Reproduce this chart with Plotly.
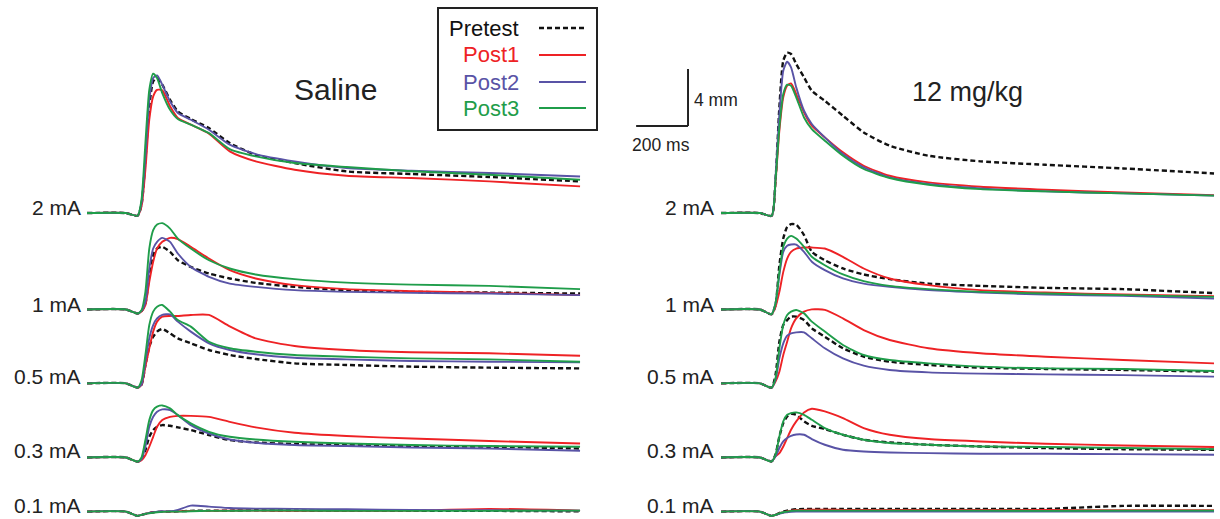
import plotly.graph_objects as go

# Shared time grid (ms from trace start)
T_MS = [0, 150, 195, 210, 225, 240, 255, 270, 290, 320, 350, 400, 470, 550, 650, 800, 1000, 1250, 1550, 1900]

CURRENTS = ["2 mA", "1 mA", "0.5 mA", "0.3 mA", "0.1 mA"]
SERIES = ["Pretest", "Post1", "Post2", "Post3"]

# Amplitude (mm) relative to each trace's baseline; order: Pretest, Post1, Post2, Post3
SAL_2MA = [
    [0, 0, -0.19, 0.58, 3.74, 7.49, 9.24, 9.47, 9.01, 7.95, 7.13, 6.60, 5.96, 4.91, 4.09, 3.51, 2.92, 2.74, 2.53, 2.22],
    [0, 0, -0.19, 0.47, 3.04, 6.55, 8.19, 8.65, 8.61, 7.49, 6.67, 6.20, 5.57, 4.33, 3.63, 3.04, 2.62, 2.46, 2.22, 1.87],
    [0, 0, -0.19, 0.70, 3.98, 7.95, 9.47, 9.66, 9.01, 7.84, 7.02, 6.55, 5.85, 4.80, 4.14, 3.63, 3.16, 2.97, 2.81, 2.57],
    [0, 0, -0.19, 0.94, 4.91, 8.65, 9.78, 9.47, 8.42, 7.25, 6.60, 6.20, 5.61, 4.49, 3.98, 3.51, 3.23, 2.93, 2.69, 2.34],
]
SAL_1MA = [
    [0, 0, -0.28, -0.12, 0.42, 2.41, 3.81, 4.28, 4.40, 4.05, 3.46, 2.99, 2.53, 2.18, 1.87, 1.59, 1.36, 1.24, 1.19, 1.12],
    [0, 0, -0.28, -0.14, 0.30, 1.94, 3.35, 4.28, 4.75, 5.03, 4.94, 4.40, 3.58, 2.76, 2.18, 1.71, 1.43, 1.29, 1.17, 1.01],
    [0, 0, -0.28, -0.10, 0.54, 2.88, 4.28, 4.75, 5.03, 4.75, 3.93, 2.99, 2.29, 1.82, 1.59, 1.36, 1.24, 1.17, 1.12, 1.01],
    [0, 0, -0.28, -0.05, 1.24, 4.28, 5.57, 5.96, 6.06, 5.68, 4.98, 4.28, 3.46, 2.88, 2.46, 2.13, 1.89, 1.75, 1.66, 1.43],
]
SAL_05MA = [
    [0, 0, -0.30, -0.10, 1.29, 2.57, 3.27, 3.63, 3.81, 3.51, 3.16, 2.81, 2.34, 1.99, 1.71, 1.40, 1.29, 1.17, 1.10, 1.05],
    [0, 0, -0.30, -0.12, 1.17, 2.46, 3.63, 4.33, 4.68, 4.73, 4.73, 4.80, 4.80, 4.00, 3.16, 2.62, 2.34, 2.18, 2.11, 1.94],
    [0, 0, -0.30, -0.08, 1.52, 3.16, 4.09, 4.56, 4.80, 4.84, 4.33, 3.63, 2.81, 2.34, 2.04, 1.80, 1.68, 1.57, 1.52, 1.47],
    [0, 0, -0.30, 0.20, 1.99, 4.09, 5.03, 5.38, 5.50, 5.03, 4.44, 3.98, 2.92, 2.46, 2.22, 1.99, 1.87, 1.75, 1.68, 1.52],
]
SAL_03MA = [
    [0, 0, -0.30, -0.15, 0.51, 1.45, 1.92, 2.15, 2.27, 2.22, 2.11, 1.92, 1.57, 1.22, 1.05, 0.94, 0.87, 0.80, 0.75, 0.63],
    [0, 0, -0.30, -0.20, 0.16, 0.75, 1.45, 2.15, 2.62, 2.85, 2.92, 2.92, 2.85, 2.50, 2.11, 1.73, 1.50, 1.33, 1.15, 0.98],
    [0, 0, -0.30, -0.12, 0.75, 2.15, 2.85, 3.20, 3.37, 3.32, 2.97, 2.27, 1.68, 1.26, 1.03, 0.87, 0.80, 0.70, 0.63, 0.47],
    [0, 0, -0.30, 0.00, 1.22, 2.62, 3.32, 3.56, 3.65, 3.44, 2.97, 2.39, 1.80, 1.45, 1.26, 1.10, 0.98, 0.87, 0.80, 0.75],
]
SAL_01MA = [
    [0, 0, -0.30, -0.23, -0.16, -0.10, -0.05, -0.02, 0, 0, 0.02, 0.05, 0.07, 0.07, 0.09, 0.07, 0.05, 0.05, 0.05, 0.02],
    [0, 0, -0.30, -0.23, -0.16, -0.10, -0.05, -0.02, 0, 0, 0.02, 0.05, 0.05, 0.07, 0.07, 0.05, 0.05, 0.07, 0.19, 0.07],
    [0, 0, -0.30, -0.23, -0.16, -0.10, -0.05, 0, 0.02, 0.02, 0.12, 0.42, 0.35, 0.25, 0.21, 0.19, 0.16, 0.12, 0.09, 0.07],
    [0, 0, -0.30, -0.23, -0.16, -0.12, -0.08, -0.05, -0.02, 0, 0, 0.02, 0.05, 0.05, 0.07, 0.07, 0.05, 0.05, 0.05, 0.07],
]

DRUG_2MA = [
    [0, 0, -0.19, 2.27, 7.42, 10.69, 11.25, 11.16, 10.46, 9.52, 8.58, 7.88, 6.83, 5.66, 4.73, 4.02, 3.63, 3.39, 3.13, 2.78],
    [0, 0, -0.19, 2.15, 5.78, 8.12, 8.94, 9.10, 8.35, 7.06, 6.13, 5.31, 4.26, 3.32, 2.62, 2.15, 1.85, 1.64, 1.45, 1.26],
    [0, 0, -0.19, 2.50, 6.95, 9.99, 10.62, 10.22, 8.82, 7.18, 6.25, 5.31, 4.14, 3.20, 2.50, 2.04, 1.73, 1.52, 1.38, 1.22],
    [0, 0, -0.19, 2.27, 6.01, 8.35, 9.01, 8.94, 8.12, 6.71, 5.89, 5.08, 4.02, 3.09, 2.46, 1.99, 1.68, 1.52, 1.38, 1.22],
]
DRUG_1MA = [
    [0, 0, -0.33, 0.30, 3.11, 4.98, 5.80, 5.99, 5.96, 5.22, 4.05, 3.46, 2.88, 2.46, 2.13, 1.82, 1.66, 1.52, 1.43, 1.15],
    [0, 0, -0.33, 0.19, 1.24, 2.64, 3.58, 4.05, 4.28, 4.35, 4.35, 4.28, 3.70, 2.88, 2.18, 1.71, 1.36, 1.19, 1.05, 0.94],
    [0, 0, -0.33, 0.42, 2.41, 4.05, 4.47, 4.56, 4.56, 4.05, 3.35, 2.76, 2.18, 1.82, 1.59, 1.36, 1.19, 1.05, 0.96, 0.77],
    [0, 0, -0.33, 0.42, 2.64, 4.40, 4.98, 5.17, 4.98, 4.40, 3.70, 3.11, 2.46, 1.99, 1.66, 1.43, 1.24, 1.12, 1.01, 0.89],
]
DRUG_05MA = [
    [0, 0, -0.30, 0.58, 2.92, 4.09, 4.44, 4.68, 4.68, 4.44, 3.86, 3.27, 2.46, 1.87, 1.52, 1.29, 1.10, 1.01, 0.94, 0.82],
    [0, 0, -0.30, 0.12, 0.82, 1.99, 2.92, 3.86, 4.56, 5.03, 5.19, 5.15, 4.56, 3.74, 3.04, 2.46, 2.11, 1.87, 1.64, 1.40],
    [0, 0, -0.30, 0.23, 1.75, 2.81, 3.35, 3.51, 3.58, 3.58, 3.16, 2.46, 1.75, 1.24, 0.94, 0.77, 0.68, 0.63, 0.58, 0.47],
    [0, 0, -0.30, 0.35, 2.46, 4.09, 4.80, 5.03, 5.15, 4.91, 4.33, 3.63, 2.69, 1.99, 1.64, 1.40, 1.17, 1.05, 1.01, 0.87],
]
DRUG_03MA = [
    [0, 0, -0.28, 0.19, 1.47, 2.41, 2.88, 3.06, 2.99, 2.53, 2.22, 1.99, 1.59, 1.24, 1.05, 0.89, 0.77, 0.66, 0.58, 0.54],
    [0, 0, -0.28, 0.07, 0.30, 0.77, 1.36, 1.94, 2.53, 3.16, 3.42, 3.23, 2.76, 2.06, 1.59, 1.29, 1.12, 0.96, 0.84, 0.73],
    [0, 0, -0.28, 0.07, 0.66, 1.12, 1.36, 1.52, 1.61, 1.59, 1.29, 0.89, 0.54, 0.42, 0.35, 0.30, 0.26, 0.26, 0.23, 0.19],
    [0, 0, -0.28, 0.19, 1.47, 2.53, 2.99, 3.11, 3.16, 2.99, 2.64, 2.06, 1.59, 1.24, 1.01, 0.89, 0.77, 0.73, 0.66, 0.58],
]
DRUG_01MA = [
    [0, 0, -0.30, -0.23, -0.10, 0, 0.07, 0.12, 0.16, 0.19, 0.19, 0.19, 0.19, 0.19, 0.19, 0.19, 0.19, 0.19, 0.40, 0.40],
    [0, 0, -0.30, -0.23, -0.12, -0.05, 0.02, 0.07, 0.12, 0.12, 0.14, 0.14, 0.12, 0.12, 0.12, 0.12, 0.12, 0.12, 0.09, 0.09],
    [0, 0, -0.30, -0.23, -0.15, -0.08, -0.05, -0.02, 0, 0, 0, 0, 0, 0, 0, 0, 0, 0, 0, 0],
    [0, 0, -0.30, -0.23, -0.12, -0.05, 0, 0.05, 0.07, 0.07, 0.07, 0.07, 0.07, 0.07, 0.07, 0.07, 0.07, 0.05, 0.07, 0.07],
]

SALINE = [SAL_2MA, SAL_1MA, SAL_05MA, SAL_03MA, SAL_01MA]
DRUG = [DRUG_2MA, DRUG_1MA, DRUG_05MA, DRUG_03MA, DRUG_01MA]

# ---- layout constants ----
W, H = 1220, 519
PX_PER_MM = 14.25
Y_TOP = H / PX_PER_MM
BASE_MM = [21.47, 14.70, 9.52, 4.32, 0.52]          # vertical stacking offsets
LABEL_PY = [207.5, 304, 376.5, 450.5, 505.5]
COLORS = ["#111111", "#ee2225", "#5953a6", "#1f9d4a"]
DASHES = ["5px,3px", "solid", "solid", "solid"]
WIDTHS = [2.4, 1.9, 1.9, 1.9]
FONT = "Liberation Sans, Arial, sans-serif"

fig = go.Figure()
for axis, panel in (("x", SALINE), ("x2", DRUG)):
    for k, block in enumerate(panel):
        for s, vals in enumerate(block):
            fig.add_trace(go.Scatter(
                x=T_MS, y=[v + BASE_MM[k] for v in vals], mode="lines",
                line=dict(color=COLORS[s], width=WIDTHS[s], dash=DASHES[s],
                          shape="spline", smoothing=0.6),
                xaxis=axis, yaxis="y", showlegend=False, hoverinfo="skip",
                name=SERIES[s]))

def px(x):
    return x / W

def py(y):
    return 1 - y / H

def text(x, y, s, size, color="#222", xanchor="center"):
    return dict(x=px(x), y=py(y), xref="paper", yref="paper", text=s,
                showarrow=False, xanchor=xanchor, yanchor="middle",
                font=dict(size=size, color=color, family=FONT))

ann = []
for k, lab in enumerate(CURRENTS):
    for xr in (83, 716):
        ann.append(text(xr, LABEL_PY[k], lab, 21, xanchor="right"))
ann.append(text(335, 89, "Saline", 30))
ann.append(text(967, 92, "12 mg/kg", 27))

shapes = [dict(type="rect", xref="paper", yref="paper", x0=px(438), x1=px(597),
               y0=py(130), y1=py(8), line=dict(color="#222", width=2))]
for s, name in enumerate(SERIES):
    yy = [28, 55, 82, 108][s]
    ann.append(text(521, yy, name, 22, color=COLORS[s], xanchor="right"))
    shapes.append(dict(type="line", xref="paper", yref="paper", x0=px(539), x1=px(586),
                       y0=py(yy), y1=py(yy),
                       line=dict(color=COLORS[s], width=WIDTHS[s], dash=DASHES[s])))

# scale bar: 200 ms x 4 mm, drawn in data units of the right panel
SB_T0, SB_Y0 = -327, 27.58
shapes.append(dict(type="line", xref="x2", yref="y", x0=SB_T0, x1=SB_T0 + 200,
                   y0=SB_Y0, y1=SB_Y0, line=dict(color="#222", width=2)))
shapes.append(dict(type="line", xref="x2", yref="y", x0=SB_T0 + 200, x1=SB_T0 + 200,
                   y0=SB_Y0, y1=SB_Y0 + 4, line=dict(color="#222", width=2)))
ann.append(text(692, 100, "4 mm", 17.5, xanchor="left"))
ann.append(text(661, 145, "200 ms", 17.5))

fig.update_layout(
    width=W, height=H, margin=dict(l=0, r=0, t=0, b=0),
    paper_bgcolor="white", plot_bgcolor="white", showlegend=False,
    xaxis=dict(domain=[0, 0.5], range=[-335.3, 2015.4], visible=False, anchor="y"),
    xaxis2=dict(domain=[0.5, 1], range=[-427.7, 1923.0], visible=False, anchor="y"),
    yaxis=dict(domain=[0, 1], range=[0, Y_TOP], visible=False, anchor="x"),
    annotations=ann, shapes=shapes,
)
fig.write_html("out.html", config={"displayModeBar": False},
               post_script="document.body.style.margin='0px';document.body.style.overflow='hidden';")
